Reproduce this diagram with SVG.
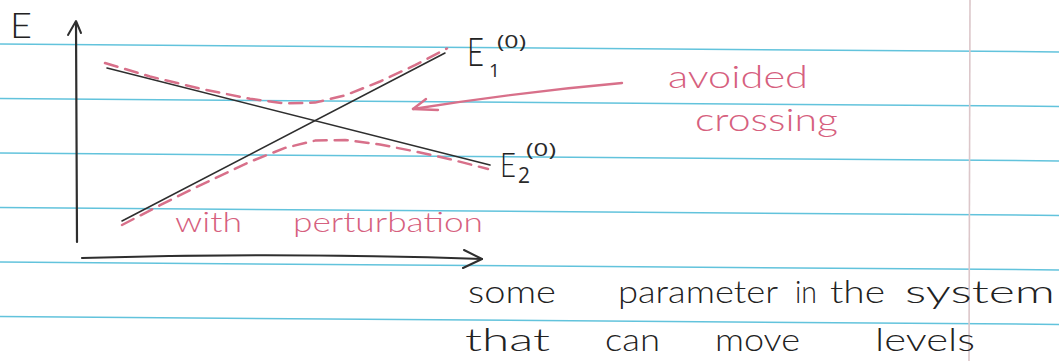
<svg xmlns="http://www.w3.org/2000/svg" width="1059" height="361" viewBox="0 0 1059 361">
<style>
.rule{stroke:#62c3dc;stroke-width:1.5;fill:none}
.ink{stroke:#2e2e2e;fill:none;stroke-linecap:round;stroke-linejoin:round}
.pinkdash{stroke:#d8708a;stroke-width:2.5;fill:none;stroke-dasharray:13 8;stroke-linecap:round;stroke-linejoin:round}
.pink{stroke:#d8708a;fill:none;stroke-linecap:round;stroke-linejoin:round}
.tb{font-family:Lato,"Open Sans","DejaVu Sans",sans-serif;font-weight:300;fill:#222222}
.tp{font-family:Lato,"Open Sans","DejaVu Sans",sans-serif;font-weight:300;fill:#d6607e}
.num{font-family:"Open Sans","DejaVu Sans",sans-serif;font-weight:400;fill:#2a2a2a}
</style>
<rect width="1059" height="361" fill="#ffffff"/>
<g id="paper">
<line class="rule" x1="0" y1="44" x2="1059" y2="51.9"/>
<line class="rule" x1="0" y1="98.5" x2="1059" y2="106.4"/>
<line class="rule" x1="0" y1="153" x2="1059" y2="160.9"/>
<line class="rule" x1="0" y1="207.5" x2="1059" y2="215.4"/>
<line class="rule" x1="0" y1="262" x2="1059" y2="269.9"/>
<line class="rule" x1="0" y1="316.5" x2="1059" y2="324.4"/>
<line x1="970" y1="0" x2="969" y2="361" stroke="#dcc7ca" stroke-width="1.6"/>
</g>
<g id="axes">
<path class="ink" stroke-width="2.2" d="M76,22 L77,242"/>
<path class="ink" stroke-width="2" d="M68,35 L76,21 L81,33"/>
<path class="ink" stroke-width="2.2" d="M82,258 Q280,252 482,259"/>
<path class="ink" stroke-width="2" d="M464,250 L482,259 L463,268"/>
<text class="tb" x="10" y="38" font-size="36" textLength="22" lengthAdjust="spacingAndGlyphs">E</text>
</g>
<g id="level-E1">
<path class="ink" stroke-width="1.6" d="M122,221 L445,53"/>
<text class="tb" x="467" y="66" font-size="39" textLength="17" lengthAdjust="spacingAndGlyphs">E</text>
<text class="num" x="489" y="77" font-size="19">1</text>
<text class="num" x="497" y="48" font-size="19" textLength="29" lengthAdjust="spacingAndGlyphs">(0)</text>
</g>
<g id="level-E2">
<path class="ink" stroke-width="1.6" d="M107,68 L490,165"/>
<text class="tb" x="500" y="177" font-size="34" textLength="16" lengthAdjust="spacingAndGlyphs">E</text>
<text class="num" x="518" y="183" font-size="21">2</text>
<text class="num" x="526" y="156" font-size="19" textLength="30" lengthAdjust="spacingAndGlyphs">(0)</text>
</g>
<g id="perturbed">
<path class="pinkdash" d="M105,63 L150,76.5 L200,88.6 L250,98.8 L285,103.4 L315,102.6 L345,95.4 L380,81.5 L415,65.2 L447,48.5"/>
<path class="pinkdash" d="M122,225 L160,205.2 L200,185.3 L250,161.8 L285,147.9 L315,140.6 L345,139.9 L380,144.5 L415,151.4 L450,159.2 L488,169"/>
<text class="tp" x="175" y="232" font-size="28" textLength="67" lengthAdjust="spacingAndGlyphs">with</text>
<text class="tp" x="293" y="232" font-size="28" textLength="190" lengthAdjust="spacingAndGlyphs">perturbation</text>
</g>
<g id="note-avoided">
<text class="tp" x="668" y="88" font-size="32" textLength="140" lengthAdjust="spacingAndGlyphs">avoided</text>
<text class="tp" x="695" y="131" font-size="32" textLength="143" lengthAdjust="spacingAndGlyphs">crossing</text>
</g>
<g id="connectors">
<path class="pink" stroke-width="2.4" d="M622,83 Q520,92 413,109"/>
<path class="pink" stroke-width="2.4" d="M426,99 L413,109 L438,110"/>
</g>
<g id="axis-label">
<text class="tb" x="468" y="303" font-size="31" textLength="88" lengthAdjust="spacingAndGlyphs">some</text>
<text class="tb" x="618" y="303" font-size="31" textLength="160" lengthAdjust="spacingAndGlyphs">parameter</text>
<text class="tb" x="795" y="303" font-size="31" textLength="22" lengthAdjust="spacingAndGlyphs">in</text>
<text class="tb" x="830" y="303" font-size="31" textLength="55" lengthAdjust="spacingAndGlyphs">the</text>
<text class="tb" x="905" y="303" font-size="31" textLength="150" lengthAdjust="spacingAndGlyphs">system</text>
<text class="tb" x="465" y="351" font-size="31" textLength="85" lengthAdjust="spacingAndGlyphs">that</text>
<text class="tb" x="605" y="351" font-size="31" textLength="55" lengthAdjust="spacingAndGlyphs">can</text>
<text class="tb" x="715" y="351" font-size="31" textLength="85" lengthAdjust="spacingAndGlyphs">move</text>
<text class="tb" x="875" y="351" font-size="31" textLength="100" lengthAdjust="spacingAndGlyphs">levels</text>
</g>
</svg>
